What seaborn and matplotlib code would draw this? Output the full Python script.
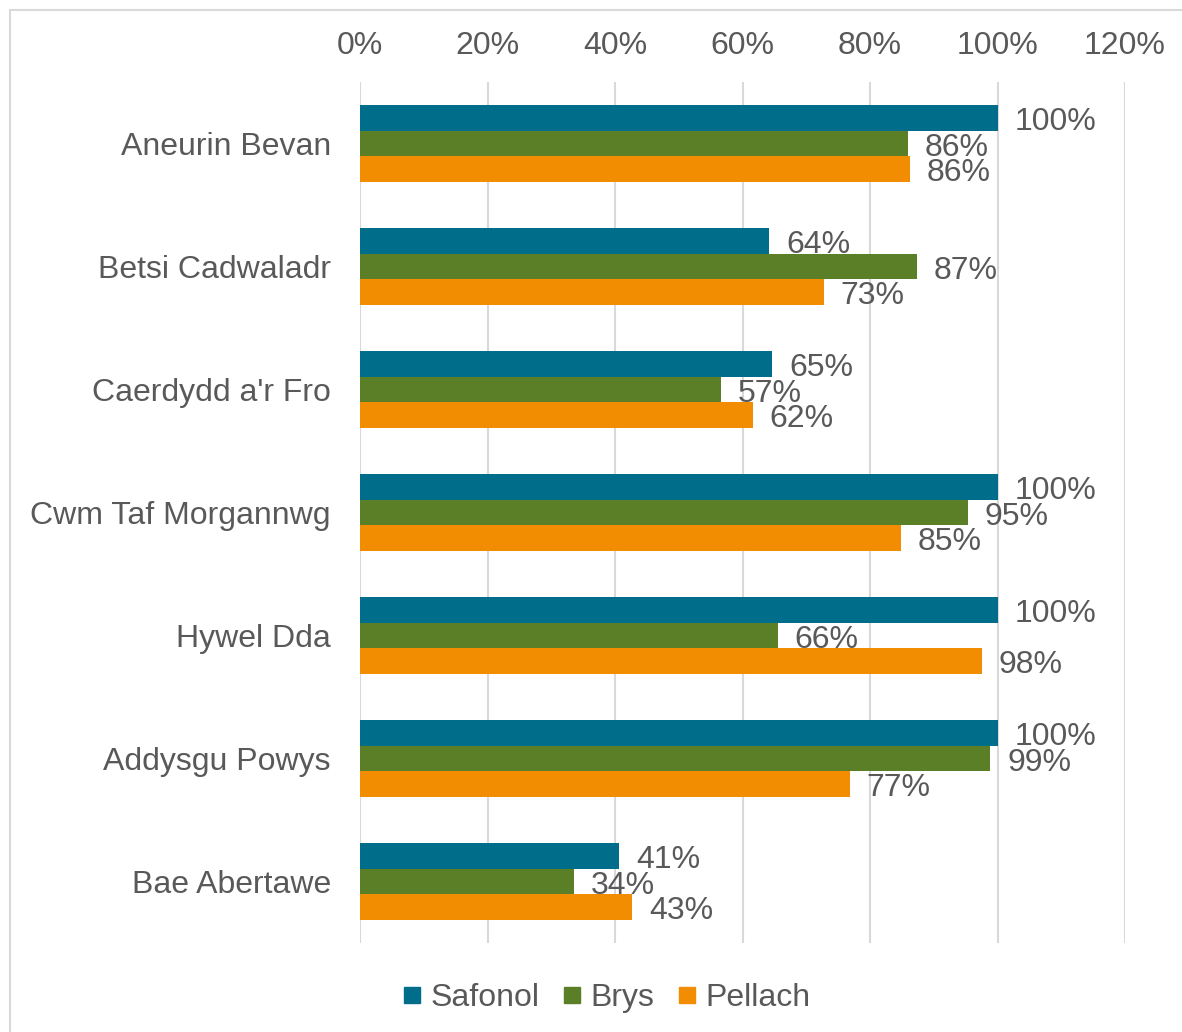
import pandas as pd
import seaborn as sns
import matplotlib.pyplot as plt
from matplotlib.lines import Line2D
from matplotlib.ticker import FuncFormatter

regions = ['Aneurin Bevan', 'Betsi Cadwaladr', "Caerdydd a'r Fro", 'Cwm Taf Morgannwg',
           'Hywel Dda', 'Addysgu Powys', 'Bae Abertawe']
series = ['Safonol', 'Brys', 'Pellach']
safonol = [100, 64.2, 64.7, 100, 100, 100, 40.7]
brys = [85.9, 87.3, 56.6, 95.3, 65.6, 98.9, 33.6]
pellach = [86.3, 72.8, 61.6, 84.8, 97.6, 76.8, 42.7]
colors = ['#006E8A', '#5A7F26', '#F28C00']
txt = '#595959'

rows = []
for i, r in enumerate(regions):
	for s, vals in zip(series, [safonol, brys, pellach]):
		rows.append([r, s, vals[i]])
df = pd.DataFrame(rows, columns=['region', 'series', 'value'])

sns.set_theme(style='white')
plt.rcParams['font.family'] = ['Liberation Sans', 'DejaVu Sans']
fs = 23

fig = plt.figure(figsize=(11.82, 10.32), dpi=100)
ax = fig.add_axes([360/1182, 1-943/1032, (1125-360)/1182, (943-82)/1032])

sns.barplot(data=df, y='region', x='value', hue='series', palette=colors,
            orient='h', width=0.63, saturation=1, ax=ax, legend=False,
            edgecolor='none', linewidth=0)

# value labels next to bar ends, they overlap a bit like the original
for cont in ax.containers:
	labs = [f'{round(b.get_width())}%' for b in cont]
	texts = ax.bar_label(cont, labels=labs, padding=12, fontsize=fs, color=txt)
	for t in texts:
		t.xyann = (t.xyann[0], -3)

ax.set_xlim(0, 120)
ax.set_xticks(range(0, 121, 20))
ax.xaxis.set_major_formatter(FuncFormatter(lambda v, p: f'{int(v)}%'))
ax.xaxis.tick_top()
ax.tick_params(axis='x', length=0, pad=15, labelsize=fs, labelcolor=txt)
ax.tick_params(axis='y', length=0, pad=21, labelsize=fs, labelcolor=txt)
ax.grid(axis='x', color='#D9D9D9', linewidth=1.5)
ax.set_axisbelow(True)
for sp in ax.spines.values():
	sp.set_visible(False)
ax.set_xlabel('')
ax.set_ylabel('')

handles = [Line2D([], [], marker='s', linestyle='none', markersize=12,
                  markerfacecolor=c, markeredgecolor=c) for c in colors]
fig.legend(handles, series, loc='center', bbox_to_anchor=(607/1182, 1-998/1032),
           ncol=3, frameon=False, fontsize=fs, labelcolor=txt,
           handlelength=0.55, handletextpad=0.3, columnspacing=0.75)

# outer chart border (top and left visible)
fig.add_artist(Line2D([10/1182, 1], [1-10/1032, 1-10/1032], color='#D9D9D9', linewidth=1.5))
fig.add_artist(Line2D([10/1182, 10/1182], [0, 1-10/1032], color='#D9D9D9', linewidth=1.5))

fig.savefig('out.png', dpi=100)
